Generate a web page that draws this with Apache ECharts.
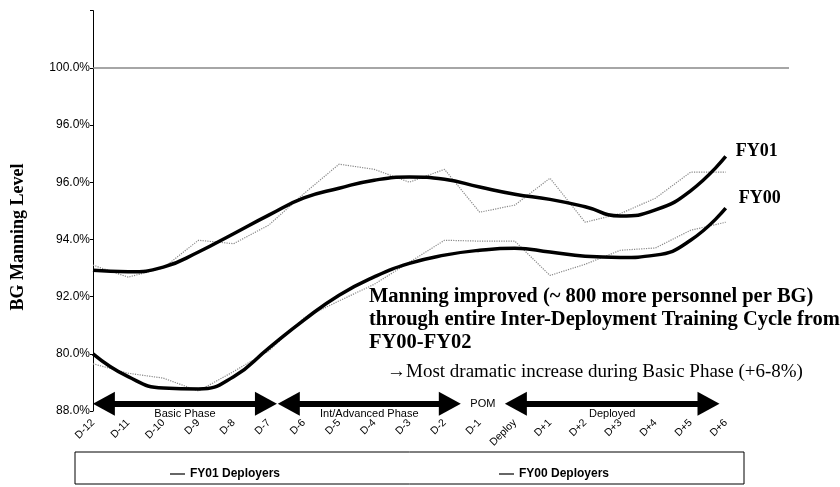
<!DOCTYPE html>
<html><head><meta charset="utf-8">
<script src="https://cdn.jsdelivr.net/npm/echarts@6/dist/echarts.min.js"></script>
<style>html,body{margin:0;padding:0;background:#fff}#c{width:840px;height:487px}</style>
</head><body><div id="c"></div>
<script>
const categories = ['D-12','D-11','D-10','D-9','D-8','D-7','D-6','D-5','D-4','D-3','D-2','D-1','Deploy','D+1','D+2','D+3','D+4','D+5','D+6'];
const fy01Deployers = [93.1,92.68,93.0,93.97,93.85,94.5,95.6,96.63,96.45,96.0,96.45,94.95,95.2,96.14,94.6,94.9,95.44,96.35,96.35];
const fy00Deployers = [89.65,89.32,89.15,88.7,89.38,90.1,91.25,91.85,92.43,93.2,93.97,93.94,93.94,92.74,93.13,93.62,93.7,94.32,94.6];
const fy01Trend = [92.92,92.87,93.03,93.56,94.2,94.85,95.45,95.79,96.07,96.18,96.1,95.83,95.58,95.4,95.14,94.82,95.03,95.7,96.9];
const fy00Trend = [90.0,89.2,88.8,88.77,89.2,90.2,91.18,92.05,92.69,93.16,93.45,93.62,93.69,93.56,93.41,93.37,93.45,93.97,95.09];
const yTickValues = [88,90,92,94,96,98,100];
const yTickLabels = ['88.0%','80.0%','92.0%','94.0%','96.0%','96.0%','100.0%'];
const phaseNames = ['Basic Phase','Int/Advanced Phase','Deployed'];
const phaseStart = [0.31,5.57,12.03];
const phaseEnd = [4.92,10.15,17.51];
const phaseLevel = 88.25;
const pomText = 'POM';
const pomAt = 11.09;
const noteLines = ['Manning improved (~ 800 more personnel per BG)','through entire Inter-Deployment Training Cycle from','FY00-FY02','\u2192Most dramatic increase during Basic Phase (+6-8%)'];

const pairs = arr => arr.map((v,i)=>[i,v]);
const serif = '"Times New Roman","Liberation Serif",serif';
const sans = 'Arial,"Liberation Sans",sans-serif';

const chart = echarts.init(document.getElementById('c'));
chart.setOption({
  animation:false,
  backgroundColor:'#fff',
  grid:{left:93,right:51,top:10.6,bottom:76,containLabel:false},
  xAxis:{type:'value',min:0,max:19.8,interval:1,
    axisLine:{show:false},axisTick:{show:false},splitLine:{show:false},
    axisLabel:{rotate:45,margin:10,color:'#000',fontFamily:sans,fontSize:10.5,
      formatter:v=>Number.isInteger(v)&&categories[v]?categories[v]:''}},
  yAxis:{type:'value',min:88,max:102,interval:2,
    axisLine:{show:true,lineStyle:{color:'#000',width:1}},
    axisTick:{show:true,length:3,lineStyle:{color:'#000'}},
    splitLine:{show:false},
    axisLabel:{color:'#000',fontFamily:sans,fontSize:12,margin:3,
      formatter:v=>{const i=yTickValues.indexOf(v);return i>=0?yTickLabels[i]:'';}}},
  legend:[
    {data:['FY01 Deployers'],left:165,top:463,icon:'rect',itemWidth:15,itemHeight:2,
      itemStyle:{color:'#666'},
      textStyle:{fontFamily:sans,fontSize:12,fontWeight:'bold',color:'#000'}},
    {data:['FY00 Deployers'],left:494,top:463,icon:'rect',itemWidth:15,itemHeight:2,
      itemStyle:{color:'#666'},
      textStyle:{fontFamily:sans,fontSize:12,fontWeight:'bold',color:'#000'}}
  ],
  graphic:[
    {type:'rect',shape:{x:75,y:452,width:669,height:32},style:{fill:'none',stroke:'#000',lineWidth:1},z:-1},
    {type:'text',x:18,y:237,rotation:Math.PI/2,
      style:{text:'BG Manning Level',font:'bold 18px '+serif,fill:'#000',align:'center',verticalAlign:'middle',textAlign:'center',textVerticalAlign:'middle'}},
    {type:'text',x:369,y:297,style:{text:noteLines[0],font:'bold 20.5px '+serif,fill:'#000',verticalAlign:'middle',textVerticalAlign:'middle'}},
    {type:'text',x:369,y:320,style:{text:noteLines[1],font:'bold 20.5px '+serif,fill:'#000',verticalAlign:'middle',textVerticalAlign:'middle'}},
    {type:'text',x:369,y:343,style:{text:noteLines[2],font:'bold 20.5px '+serif,fill:'#000',verticalAlign:'middle',textVerticalAlign:'middle'}},
    {type:'text',x:387,y:372,style:{text:noteLines[3],font:'19px '+serif,fill:'#000',verticalAlign:'middle',textVerticalAlign:'middle'}}
  ],
  series:[
    {name:'FY01 Deployers',type:'line',data:pairs(fy01Deployers),symbol:'none',
      itemStyle:{color:'#888'},
      lineStyle:{color:'#888',width:1.2,type:'dotted'},z:2,
      markLine:{silent:true,symbol:'none',label:{show:false},
        lineStyle:{color:'#888',width:1.5,type:'solid'},data:[{yAxis:100}]}},
    {name:'FY00 Deployers',type:'line',data:pairs(fy00Deployers),symbol:'none',
      itemStyle:{color:'#888'},
      lineStyle:{color:'#888',width:1.2,type:'dotted'},z:2,
      markPoint:{silent:true,symbol:'circle',symbolSize:1,itemStyle:{color:'rgba(0,0,0,0)'},
        label:{show:true,position:'inside',color:'#000',fontFamily:sans,fontSize:11,formatter:pomText},
        data:[{coord:[pomAt,phaseLevel]}]}},
    {name:'FY01 Trend',type:'line',data:pairs(fy01Trend),symbol:'none',smooth:true,
      itemStyle:{color:'#000'},
      lineStyle:{color:'#000',width:3.5},z:3,
      endLabel:{show:true,formatter:'FY01',color:'#000',fontFamily:serif,fontWeight:'bold',fontSize:18,offset:[2,-5]},
      markLine:{silent:true,symbol:['triangle','triangle'],symbolSize:[24,22],
        lineStyle:{color:'#000',width:6,type:'solid'},
        label:{show:true,position:'insideMiddleBottom',distance:5,color:'#000',fontFamily:sans,fontSize:11,formatter:'{b}'},
        data:phaseNames.map((n,i)=>[{name:n,coord:[phaseStart[i],phaseLevel]},{coord:[phaseEnd[i],phaseLevel]}])}},
    {name:'FY00 Trend',type:'line',data:pairs(fy00Trend),symbol:'none',smooth:true,
      itemStyle:{color:'#000'},
      lineStyle:{color:'#000',width:3.5},z:3,
      endLabel:{show:true,formatter:'FY00',color:'#000',fontFamily:serif,fontWeight:'bold',fontSize:18,offset:[5,-10]}}
  ]
});
</script></body></html>
